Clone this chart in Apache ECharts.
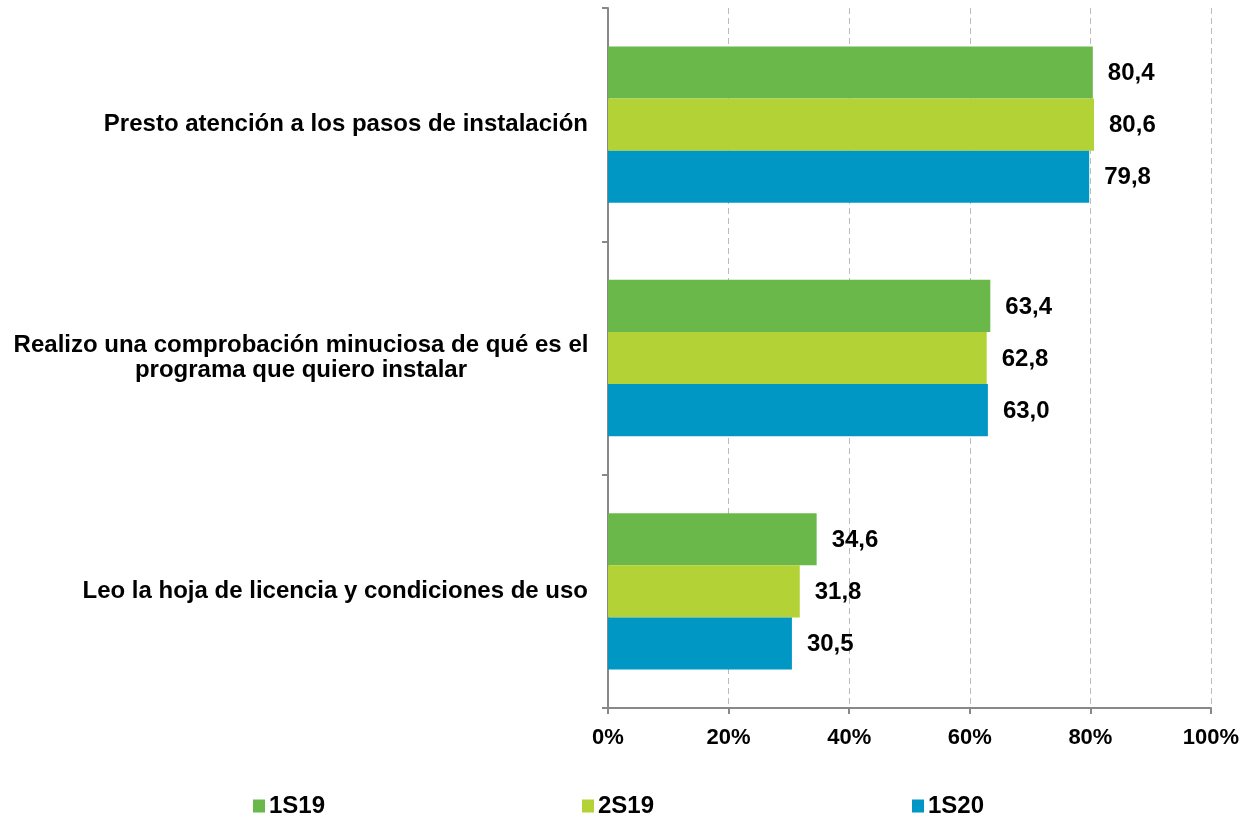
<!DOCTYPE html>
<html>
<head>
<meta charset="utf-8">
<script src="https://cdn.jsdelivr.net/npm/echarts@6/dist/echarts.min.js"></script>
<style>
  html, body { margin: 0; padding: 0; background: #fff; }
  #chart { width: 1259px; height: 817px; }
</style>
</head>
<body>
<div id="chart"></div>
<script>
// datos
var categories = [
  'Presto atención a los pasos de instalación',
  'Realizo una comprobación minuciosa de qué es el\nprograma que quiero instalar',
  'Leo la hoja de licencia y condiciones de uso'
]
var s1S19 = [80.4, 63.4, 34.6]
var s2S19 = [80.6, 62.8, 31.8]
var s1S20 = [79.8, 63.0, 30.5]
var seriesNames = ['1S19', '2S19', '1S20']
var colors = ['#6ab84a', '#b2d235', '#0097c4']
var xTicks = ['0%', '20%', '40%', '60%', '80%', '100%']

var chart = echarts.init(document.getElementById('chart'))
var font = '"Liberation Sans", Arial, sans-serif'

function serie (name, data, color) {
  return {
    name: name,
    type: 'bar',
    data: data,
    barGap: 0,
    barCategoryGap: '33%',
    itemStyle: { color: color },
    label: {
      show: true,
      position: 'right',
      distance: 15,
      offset: [0, 1],
      color: '#000',
      fontFamily: font,
      fontWeight: 'bold',
      fontSize: 24,
      formatter: function (p) { return p.value.toFixed(1).replace('.', ',') }
    }
  }
}

function legend (i, left) {
  return {
    data: [seriesNames[i]],
    left: left,
    top: 789,
    icon: 'rect',
    itemWidth: 12,
    itemHeight: 13,
    itemGap: 4,
    textStyle: { color: '#000', fontFamily: font, fontWeight: 'bold', fontSize: 24, padding: [0, 0, 0, -1] }
  }
}

var option = {
  animation: false,
  legend: [legend(0, 248), legend(1, 577), legend(2, 907)],
  grid: { left: 608, right: 48, top: 8, bottom: 109, containLabel: false },
  xAxis: {
    type: 'value',
    min: 0,
    max: 100,
    interval: 20,
    axisLine: { show: true, lineStyle: { color: '#888', width: 2 } },
    axisTick: { show: true, length: 6, lineStyle: { color: '#888', width: 2 } },
    splitLine: { show: true, lineStyle: { color: '#bbb', type: [6, 4], width: 1 } },
    axisLabel: {
      margin: 19,
      color: '#000',
      fontFamily: font,
      fontWeight: 'bold',
      fontSize: 22,
      formatter: function (v) { return xTicks[v / 20] }
    }
  },
  yAxis: {
    type: 'category',
    data: categories,
    inverse: true,
    axisLine: { show: true, lineStyle: { color: '#888', width: 2 } },
    axisTick: { show: true, length: 6, lineStyle: { color: '#888', width: 2 } },
    axisLabel: {
      margin: 20,
      color: '#000',
      fontFamily: font,
      fontWeight: 'bold',
      fontSize: 24,
      lineHeight: 25,
      formatter: function (v) {
        if (v.indexOf('\n') < 0) return v
        return v.split('\n').map(function (l) { return '{c|' + l + '}' }).join('\n')
      },
      rich: {
        c: { width: 574, align: 'center', fontFamily: font, fontWeight: 'bold', fontSize: 24, lineHeight: 25, color: '#000' }
      }
    }
  },
  series: [
    serie(seriesNames[0], s1S19, colors[0]),
    serie(seriesNames[1], s2S19, colors[1]),
    serie(seriesNames[2], s1S20, colors[2])
  ]
}
chart.setOption(option)
</script>
</body>
</html>
